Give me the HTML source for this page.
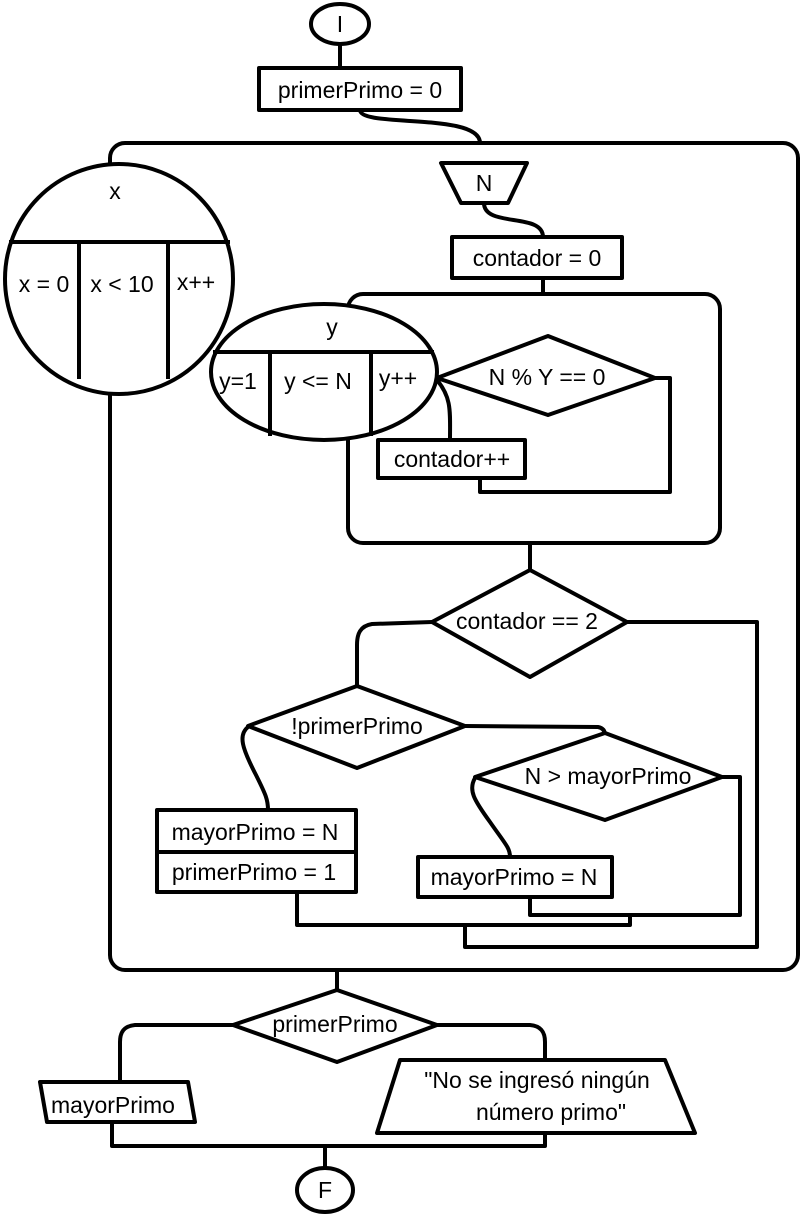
<!DOCTYPE html>
<html><head><meta charset="utf-8"><style>
html,body{margin:0;padding:0;background:#fff}
svg{display:block}
text{font-family:"Liberation Sans",sans-serif;font-size:23px;fill:#000}
</style></head><body>
<svg width="811" height="1222" viewBox="0 0 811 1222" xmlns="http://www.w3.org/2000/svg">
<g fill="none" stroke="#000" stroke-width="4" stroke-linejoin="round">
<ellipse cx="340" cy="24" rx="29" ry="20" fill="#fff"/>
<line x1="340" y1="44" x2="340" y2="68"/>
<rect x="259" y="68" width="202" height="42" fill="#fff"/>
<path d="M360 110 C360 128 480 112 480 143"/>
<rect x="110" y="143" width="688" height="827" rx="15" fill="#fff"/>
<ellipse cx="119" cy="279" rx="114" ry="115" fill="#fff"/>
<line x1="9" y1="242" x2="230" y2="242"/>
<line x1="79" y1="242" x2="79" y2="379"/>
<line x1="168" y1="242" x2="168" y2="379"/>
<polygon points="441,163 527,163 508,203 461,203" fill="#fff"/>
<path d="M484 203 C484 228 543 212 543 237"/>
<rect x="452" y="237" width="170" height="41" fill="#fff"/>
<line x1="543" y1="278" x2="543" y2="294"/>
<rect x="348" y="294" width="372" height="249" rx="15" fill="#fff"/>
<ellipse cx="324" cy="372" rx="113" ry="68" fill="#fff"/>
<line x1="213" y1="352" x2="434" y2="352"/>
<line x1="270" y1="352" x2="270" y2="436"/>
<line x1="371" y1="352" x2="371" y2="436"/>
<polygon points="437,378 548,336 655,378 548,415" fill="#fff"/>
<polyline points="655,378 670,378 670,492 480,492 480,478"/>
<path d="M437 380 C452 398 450 412 450 440"/>
<rect x="378" y="440" width="147" height="38" fill="#fff"/>
<line x1="530" y1="543" x2="530" y2="570"/>
<polygon points="432,622 530,570 627,622 530,677" fill="#fff"/>
<polyline points="627,622 757,622 757,947 465,947 465,927"/>
<path d="M432 622 L372 624 C360 626 357 634 357 645 L357 686"/>
<polygon points="248,726 357,686 465,726 357,768" fill="#fff"/>
<path d="M465 726 L598 727 C603 728 605 731 605 735"/>
<path d="M248 727 C238 735 242 748 256 775 C266 795 268 800 268 810"/>
<rect x="157" y="810" width="199" height="42" fill="#fff"/>
<rect x="157" y="852" width="199" height="40" fill="#fff"/>
<polyline points="297,892 297,925 630,925 630,915"/>
<polygon points="475,777 605,733 722,777 605,820" fill="#fff"/>
<polyline points="722,777 740,777 740,915 530,915 530,897"/>
<path d="M475 778 C468 790 474 800 490 822 C506 845 510 848 510 857"/>
<rect x="418" y="857" width="194" height="40" fill="#fff"/>
<line x1="337" y1="970" x2="337" y2="990"/>
<polygon points="233,1025 337,990 437,1025 337,1062" fill="#fff"/>
<path d="M233 1025 L135 1025 C124 1026 120 1032 120 1042 L120 1082"/>
<path d="M437 1025 L530 1025 C541 1026 545 1032 545 1042 L545 1060"/>
<polygon points="40,1082 188,1082 195,1122 47,1122" fill="#fff"/>
<polygon points="400,1060 665,1060 695,1133 377,1133" fill="#fff"/>
<polyline points="112,1122 112,1146 545,1146 545,1133"/>
<line x1="325" y1="1146" x2="325" y2="1168"/>
<ellipse cx="325" cy="1190" rx="28" ry="22" fill="#fff"/>
</g>
<g text-anchor="middle">
<text x="340" y="32">I</text>
<text x="360" y="98">primerPrimo = 0</text>
<text x="115" y="199">x</text>
<text x="44" y="292">x = 0</text>
<text x="122" y="292">x &lt; 10</text>
<text x="196" y="290">x++</text>
<text x="484" y="191">N</text>
<text x="537" y="266">contador = 0</text>
<text x="332" y="335">y</text>
<text x="238" y="389">y=1</text>
<text x="318" y="389">y &lt;= N</text>
<text x="398" y="386">y++</text>
<text x="547" y="385">N % Y == 0</text>
<text x="452" y="467">contador++</text>
<text x="527" y="629">contador == 2</text>
<text x="357" y="734">!primerPrimo</text>
<text x="608" y="784">N &gt; mayorPrimo</text>
<text x="255" y="840">mayorPrimo = N</text>
<text x="254" y="880">primerPrimo = 1</text>
<text x="514" y="885">mayorPrimo = N</text>
<text x="335" y="1032">primerPrimo</text>
<text x="113" y="1113">mayorPrimo</text>
<text x="537" y="1088">"No se ingresó ningún</text>
<text x="551" y="1120">número primo"</text>
<text x="325" y="1198">F</text>
</g>
</svg>
</body></html>
